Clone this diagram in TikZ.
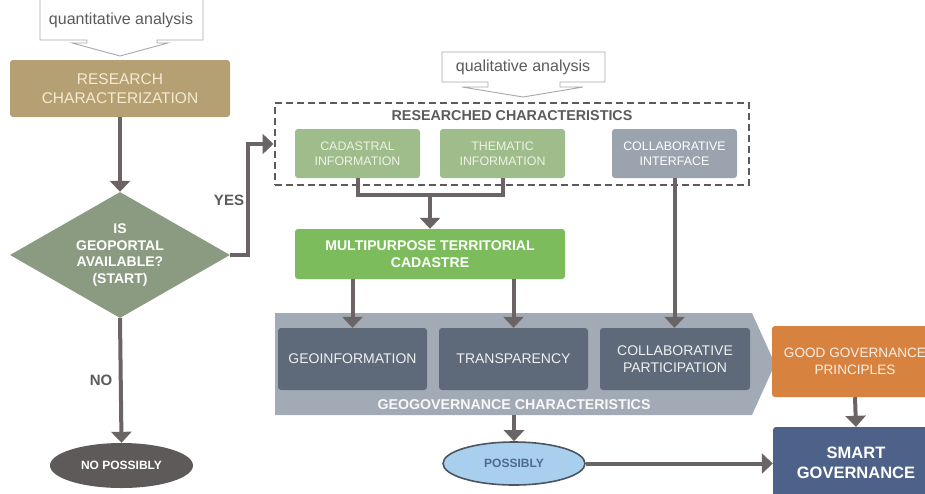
\documentclass[tikz,border=0pt]{standalone}
\usepackage{fontspec}
\setmainfont{Liberation Sans}
\usetikzlibrary{arrows.meta,shapes.geometric}
\definecolor{tan}{HTML}{B5A073}
\definecolor{tantext}{HTML}{F4EAD0}
\definecolor{diacol}{HTML}{8B9B81}
\definecolor{arrcol}{HTML}{6A6464}
\definecolor{lgreen}{HTML}{9FBC8B}
\definecolor{lgreentext}{HTML}{EDF3E6}
\definecolor{ciblue}{HTML}{9AA3AE}
\definecolor{mtcgreen}{HTML}{7DBC5C}
\definecolor{chevcol}{HTML}{A2ABB5}
\definecolor{slate}{HTML}{5E6A79}
\definecolor{orangecol}{HTML}{D8823F}
\definecolor{smartcol}{HTML}{4E6289}
\definecolor{posfill}{HTML}{A9CFEF}
\definecolor{posborder}{HTML}{4C5461}
\definecolor{postext}{HTML}{4F6A8A}
\definecolor{npcol}{HTML}{5E5A5A}
\definecolor{labcol}{HTML}{5B5B5B}
\definecolor{calloutcol}{HTML}{A8A8A8}
\begin{document}
\begin{tikzpicture}[x=1pt,y=-1pt,
  box/.style={rectangle, rounded corners=3pt, align=center, inner sep=2pt},
  arr/.style={draw=arrcol, line width=4pt, -{Triangle[width=20pt,length=11pt]}},
  plainline/.style={draw=arrcol, line width=4pt},
  callout/.style={draw=calloutcol, line width=0.9pt},
  lab/.style={text=labcol, font=\fontsize{15}{17}\selectfont\bfseries}
]
\clip (0,0) rectangle (925,493);
\fill[white] (0,0) rectangle (925,493);

% quantitative analysis callout
\draw[callout] (40,-2) -- (40,40) -- (87,40) -- (87,43) -- (72,43) -- (120,56) -- (168,43) -- (157,43) -- (157,40) -- (203,40) -- (203,-2);
\node[text=labcol, font=\fontsize{16}{18}\selectfont] (qa) at (121,20) {quantitative analysis};

% research characterization
\node[box, fill=tan, text=tantext, minimum width=220pt, minimum height=57pt,
  font=\fontsize{15.5}{19}\selectfont] (rc) at (120,88.5) {RESEARCH\\CHARACTERIZATION};

% diamond
\node[diamond, fill=diacol, text=white, inner sep=0pt, aspect=1.75,
  minimum width=220pt, minimum height=126pt, align=center,
  font=\fontsize{14}{16.7}\selectfont\bfseries] (dia) at (120,255) {IS\\GEOPORTAL\\AVAILABLE?\\(START)};

% no possibly
\node[ellipse, fill=npcol, text=white, minimum width=143pt, minimum height=45pt,
  inner sep=0pt, font=\fontsize{12}{14}\selectfont\bfseries] (np) at (121.5,465.5) {NO POSSIBLY};

\draw[arr] (rc.south) -- (dia.north);
\draw[arr] (dia.south) -- (np.north);
\node[lab] (nolab) at (101,380) {NO};

% qualitative analysis callout
\draw[callout] (442,52) -- (605,52) -- (605,82) -- (560,82) -- (560,87) -- (583,87) -- (523,97) -- (462,87) -- (488,87) -- (488,82) -- (442,82) -- cycle;
\node[text=labcol, font=\fontsize{16}{18}\selectfont] (qual) at (523,67) {qualitative analysis};

% researched characteristics dashed box
\node[draw=labcol, dash pattern=on 7pt off 4pt, line width=2pt, minimum width=474pt,
  minimum height=82pt, inner sep=0pt] (dash) at (511.5,144) {};
\node[lab, font=\fontsize{14.3}{16}\selectfont\bfseries] (rctitle) at (512,116) {RESEARCHED CHARACTERISTICS};

\node[box, fill=lgreen, text=lgreentext, minimum width=125pt, minimum height=49pt,
  font=\fontsize{12.4}{15}\selectfont] (cad) at (357.5,153.5) {CADASTRAL\\INFORMATION};
\node[box, fill=lgreen, text=lgreentext, minimum width=125pt, minimum height=49pt,
  font=\fontsize{12.4}{15}\selectfont] (them) at (502.5,153.5) {THEMATIC\\INFORMATION};
\node[box, fill=ciblue, text=white, minimum width=125pt, minimum height=49pt,
  font=\fontsize{12.4}{15}\selectfont] (ci) at (674.5,153.5) {COLLABORATIVE\\INTERFACE};

% YES path
\draw[arr] (dia.east) -- ++(18,0) |- (dash.west);
\node[lab] (yeslab) at (229,200) {YES};

% MTC
\node[box, fill=mtcgreen, text=white, minimum width=270pt, minimum height=50pt,
  font=\fontsize{14.1}{17}\selectfont\bfseries] (mtc) at (430,254) {MULTIPURPOSE TERRITORIAL\\CADASTRE};
\coordinate (join) at (430,195);
\draw[plainline, line join=miter] (cad.south) |- (join) -| (them.south);
\draw[arr] (join) -- (mtc.north);

% chevron
\fill[chevcol] (275,313) -- (752,313) -- (775,364) -- (752,415) -- (275,415) -- cycle;
\node[box, fill=slate, text=white!90!slate, minimum width=149pt, minimum height=62pt,
  font=\fontsize{14}{17}\selectfont] (geo) at (352.5,359) {GEOINFORMATION};
\node[box, fill=slate, text=white!90!slate, minimum width=149pt, minimum height=62pt,
  font=\fontsize{14}{17}\selectfont] (trans) at (513.5,359) {TRANSPARENCY};
\node[box, fill=slate, text=white!90!slate, minimum width=150pt, minimum height=62pt,
  font=\fontsize{14}{17}\selectfont] (cp) at (675,359) {COLLABORATIVE\\PARTICIPATION};
\node[text=white!92!chevcol, font=\fontsize{14.2}{16}\selectfont\bfseries] (ggc) at (514,405) {GEOGOVERNANCE CHARACTERISTICS};

\draw[arr] (mtc.south -| geo.north) -- (geo.north);
\draw[arr] (mtc.south -| trans.north) -- (trans.north);
\draw[arr] (ci.south) -- (ci.south |- cp.north);

% possibly
\coordinate (chevbot) at (514,415);
\node[ellipse, fill=posfill, draw=posborder, line width=1.6pt, text=postext,
  minimum width=142pt, minimum height=43pt, inner sep=0pt,
  font=\fontsize{12}{14}\selectfont\bfseries] (pos) at (514,463.5) {POSSIBLY};
\draw[arr] (chevbot) -- (pos.north);

% right column
\node[box, fill=orangecol, text=white!88!orangecol, minimum width=166pt, minimum height=71pt,
  font=\fontsize{13.6}{17}\selectfont] (ggp) at (855,361.5) {GOOD GOVERNANCE\\PRINCIPLES};
\node[box, fill=smartcol, text=white, minimum width=166pt, minimum height=72pt,
  font=\fontsize{16.5}{20.5}\selectfont\bfseries] (smart) at (856,463) {SMART\\GOVERNANCE};
\draw[arr] (ggp.south) -- (smart.north);
\draw[arr] (pos.east) -- (pos.east -| smart.west);
\end{tikzpicture}
\end{document}
